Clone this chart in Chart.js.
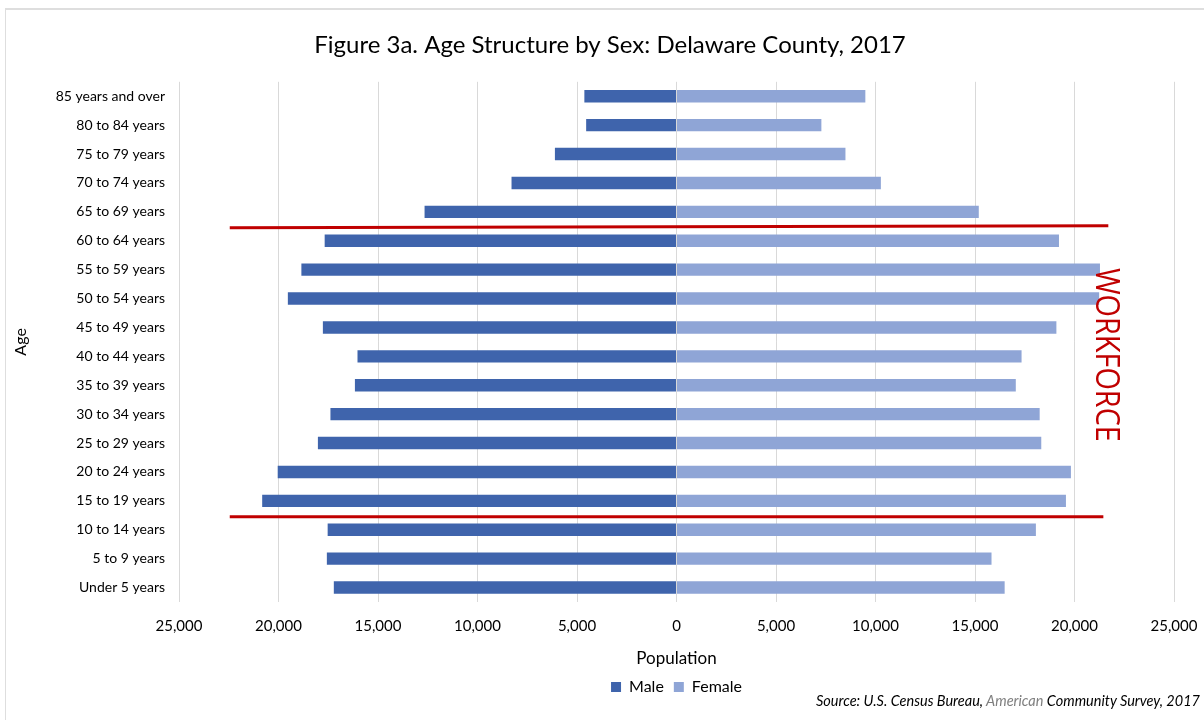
<!DOCTYPE html>
<html>
<head>
<meta charset="utf-8">
<script src="https://cdn.jsdelivr.net/npm/chart.js@4"></script>
<style>
  html, body { margin: 0; padding: 0; background: #fff; }
  #wrap { position: relative; width: 1204px; height: 720px; overflow: hidden; }
  #frame { position: absolute; left: 5px; top: 8px; width: 1300px; height: 800px;
           border-top: 2px solid #dedede; border-left: 1px solid #dedede; box-sizing: border-box; }
  canvas { position: absolute; left: 0; top: 0; }
  #source { position: absolute; right: 4px; top: 692px; font-family: Lato, sans-serif;
            font-style: italic; font-size: 14.5px; color: #000; white-space: nowrap; }
  #source .gray { color: #7f7f7f; }
</style>
</head>
<body>
<div id="wrap">
  <div id="frame"></div>
  <canvas id="c" width="1204" height="720"></canvas>
  <div id="source">Source: U.S. Census Bureau, <span class="gray">American</span> Community Survey, 2017</div>
</div>
<script>
// Categories, top to bottom as drawn
const ageGroups = [
  '85 years and over', '80 to 84 years', '75 to 79 years', '70 to 74 years',
  '65 to 69 years', '60 to 64 years', '55 to 59 years', '50 to 54 years',
  '45 to 49 years', '40 to 44 years', '35 to 39 years', '30 to 34 years',
  '25 to 29 years', '20 to 24 years', '15 to 19 years', '10 to 14 years',
  '5 to 9 years', 'Under 5 years'
];
// Population values (estimated from the figure)
const malePop = [4630, 4540, 6110, 8290, 12660, 17680, 18850, 19530, 17770,
                 16030, 16160, 17390, 18020, 20040, 20820, 17530, 17570, 17220];
const femalePop = [9490, 7280, 8490, 10270, 15190, 19220, 21280, 21240, 19090,
                   17340, 17050, 18250, 18330, 19820, 19570, 18060, 15830, 16490];
const xTickValues = [-25000, -20000, -15000, -10000, -5000, 0, 5000, 10000, 15000, 20000, 25000];
// Workforce band boundaries (between category positions)
const workforceBounds = [4.5, 14.5];

const FONT = 'Lato, "Open Sans", sans-serif';
const fmt = v => Math.abs(v).toLocaleString('en-US');

const overlay = {
  id: 'overlay',
  afterDatasetsDraw(chart) {
    const ctx = chart.ctx;
    const x = chart.scales.x, y = chart.scales.y;
    ctx.save();
    ctx.strokeStyle = '#c00000';
    ctx.lineWidth = 3;
    ctx.lineCap = 'butt';
    const lines = [
      { b: workforceBounds[0], x0: -22450, x1: 21700, d0: 1.5, d1: -0.5 },
      { b: workforceBounds[1], x0: -22450, x1: 21450, d0: 1.5, d1: 1.5 }
    ];
    lines.forEach(l => {
      const py = y.getPixelForValue(l.b);
      ctx.beginPath();
      ctx.moveTo(x.getPixelForValue(l.x0), py + l.d0);
      ctx.lineTo(x.getPixelForValue(l.x1), py + l.d1);
      ctx.stroke();
    });
    // WORKFORCE label
    const tx = x.getPixelForValue(21530);
    const ty = y.getPixelForValue(8.95);
    ctx.translate(tx, ty);
    ctx.rotate(Math.PI / 2);
    ctx.font = '33px "Open Sans", sans-serif';
    const w = ctx.measureText('WORKFORCE').width;
    ctx.scale(174 / w, 1);
    ctx.fillStyle = '#c00000';
    ctx.textAlign = 'center';
    ctx.textBaseline = 'middle';
    ctx.fillText('WORKFORCE', 0, 0);
    ctx.restore();
  }
};

new Chart(document.getElementById('c'), {
  type: 'bar',
  data: {
    labels: ageGroups,
    datasets: [
      { label: 'Male', data: malePop.map(v => -v), backgroundColor: '#3f64ac',
        borderWidth: 0, barPercentage: 0.43, categoryPercentage: 1 },
      { label: 'Female', data: femalePop, backgroundColor: '#8fa5d6',
        borderWidth: 0, barPercentage: 0.43, categoryPercentage: 1 }
    ]
  },
  options: {
    indexAxis: 'y',
    responsive: false,
    animation: false,
    layout: { padding: { left: 16, right: 0, top: 0, bottom: 15 } },
    scales: {
      x: {
        min: -25000, max: 25000,
        afterBuildTicks: s => { s.ticks = xTickValues.map(v => ({ value: v })); },
        afterFit: s => { s.height = 67; s.paddingLeft = 0; s.paddingRight = 30; },
        grid: { color: '#d9d9d9', drawTicks: false, lineWidth: 1 },
        border: { display: false },
        ticks: { callback: v => fmt(v), padding: 15, color: '#000', maxRotation: 0,
                 font: { family: FONT, size: 15 } },
        title: { display: true, text: 'Population', color: '#000', padding: { top: 0, bottom: 0 },
                 font: { family: FONT, size: 17 } }
      },
      y: {
        stacked: true,
        afterFit: s => { s.width = 163; },
        grid: { display: false, drawTicks: false },
        border: { display: false },
        ticks: { padding: 14, color: '#000', font: { family: FONT, size: 14 } },
        title: { display: true, text: 'Age', color: '#000', padding: { top: -5, bottom: 0 },
                 font: { family: FONT, size: 16 } }
      }
    },
    plugins: {
      title: {
        display: true,
        text: 'Figure 3a. Age Structure by Sex: Delaware County, 2017',
        color: '#000',
        font: { family: FONT, size: 24, weight: 'normal' },
        padding: { top: 31, bottom: 22 }
      },
      legend: {
        position: 'bottom',
        fullSize: false,
        labels: { boxWidth: 10, boxHeight: 10, padding: 10, color: '#000',
                  font: { family: FONT, size: 16 } }
      },
      tooltip: { enabled: false }
    }
  },
  plugins: [overlay]
});
</script>
</body>
</html>
